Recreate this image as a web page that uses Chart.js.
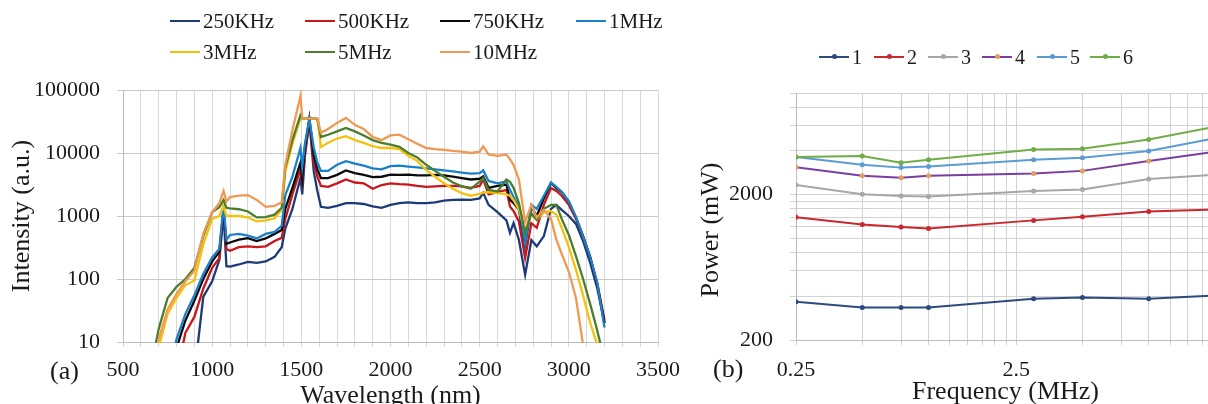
<!DOCTYPE html>
<html><head><meta charset="utf-8">
<script src="https://cdn.jsdelivr.net/npm/chart.js@4.4.1/dist/chart.umd.min.js"></script>
<style>
html,body{margin:0;padding:0;background:#fff;}
body{width:1208px;height:404px;overflow:hidden;position:relative;font-family:'Liberation Serif','Times New Roman',serif;color:#1a1a1a;}
#wa{position:absolute;left:0;top:0;width:690px;height:420px;}
#wb{position:absolute;left:690px;top:0;width:560px;height:420px;}
.lg{position:absolute;display:flex;align-items:center;white-space:nowrap;line-height:1;}
.sw{position:relative;display:inline-block;width:30px;height:0;border-top:2.5px solid;margin-right:3px;}
.dot{position:absolute;left:12.5px;top:-3.75px;width:5px;height:5px;border-radius:50%;}
.tag{position:absolute;font-size:26px;line-height:26px;}
</style></head>
<body>
<div id="wa"><canvas id="ca" width="690" height="420"></canvas></div>
<div id="wb"><canvas id="cb" width="560" height="420"></canvas></div>
<div class="tag" style="left:50px;top:358px;">(a)</div>
<div class="tag" style="left:713px;top:356px;">(b)</div>
<script>
// ---------- (a) spectra ----------
const wavelengths = [650,700,750,800,850,900,950,1000,1040,1064,1080,1100,1150,1200,1250,1300,1350,1390,1410,1450,1495,1505,1520,1545,1570,1590,1610,1650,1700,1750,1800,1850,1900,1950,2000,2050,2100,2150,2200,2250,2300,2350,2400,2450,2500,2520,2550,2600,2650,2670,2690,2720,2755,2790,2820,2860,2900,2930,2960,3000,3040,3080,3120,3160,3200];
const s250k = [3,3,3,3,3,3,52,92,200,1100,160,157,170,187,180,190,225,320,630,1300,4000,2200,9000,32000,5000,2500,1400,1350,1450,1600,1600,1550,1420,1350,1500,1600,1650,1600,1600,1650,1750,1800,1820,1800,1900,2330,1500,1150,850,540,770,420,117,415,330,480,1300,1500,1250,1000,750,400,180,70,20];
const s500k = [3,3,3,3,14,25,70,150,215,1200,300,280,320,330,320,330,400,450,900,2200,5500,3500,10000,33000,7000,4200,3000,2900,3300,3800,3400,3300,2700,3100,3300,3200,3150,3000,2900,2950,3000,3000,2950,2800,3000,3800,2200,2400,2600,1420,1200,820,215,770,650,1500,2780,2500,2100,1500,900,460,220,85,22];
const s750k = [3,3,3,8,22,45,100,190,270,1300,360,380,420,445,400,440,520,600,1300,2800,7000,4000,12000,35000,9000,5500,4000,4000,4500,5300,4800,4500,4150,4200,4550,4500,4550,4400,4400,4500,4400,4200,4000,3800,3900,4250,2800,3000,3150,1820,1600,1260,350,1420,1000,1900,3340,2780,2400,1700,950,480,220,80,20];
const s1m = [3,3,3,11,28,55,120,220,300,1500,420,500,520,490,440,520,560,700,2150,4200,12000,6000,14000,35000,12000,7000,5200,5200,6500,7400,6800,6300,5700,5500,6200,6300,6100,5900,5700,5500,5300,5100,4900,4700,4800,5300,3600,3300,3550,2600,2000,1420,370,1500,1300,2100,3400,2900,2400,1700,950,470,220,85,17];
const s3m = [3,8,28,50,80,95,350,900,1000,1450,1000,1000,1000,950,820,850,920,1250,5000,14000,35000,35500,35500,35500,35500,34000,12500,14500,17000,18400,16000,14500,12800,12000,12000,11500,9000,7500,5400,4200,3300,2700,2300,2100,2250,2350,2400,2300,2200,2100,1800,1260,600,1050,870,1150,1200,1050,650,320,140,55,20,9,4];
const s5m = [3,16,50,75,100,150,480,1150,1380,1800,1350,1320,1280,1180,950,960,1050,1350,6000,16000,40000,35500,35500,35500,35500,35000,18000,19500,22000,25000,22000,19000,16000,14500,13600,12500,10000,8500,6500,5200,4200,3400,2960,2700,3500,4000,2600,2450,3800,3500,2800,1600,540,1100,870,1300,1500,1500,900,500,230,100,40,15,5];
const s10m = [3,11,33,58,92,135,520,1150,1600,2500,1700,2000,2100,2150,1800,1400,1450,1650,6500,23000,80000,35500,35500,35500,35500,35000,21000,24000,30000,36000,28000,24000,18000,16000,19000,19500,16500,14000,12000,11500,11200,10800,10500,10000,10500,12800,9500,9000,9400,8000,6500,3800,800,1500,950,1250,900,420,250,130,50,9,3,2,2];
const specLabels = ['250KHz','500KHz','750KHz','1MHz','3MHz','5MHz','10MHz'];
const specColors = ['#1d3a78','#c8161d','#0a0a0a','#1a80c8','#f4c20d','#4b7d2c','#ee9a52'];
const specSeries = [s250k, s500k, s750k, s1m, s3m, s5m, s10m];
const wlTickLabels = [500,1000,1500,2000,2500,3000,3500];
const intTickLabels = [10,100,1000,10000,100000];

// ---------- (b) power ----------
const freqs = [0.25,0.5,0.75,1,3,5,10,20];
const p1 = [367,335,335,335,384,392,384,405];
const p2 = [1395,1244,1199,1168,1330,1410,1532,1578];
const p3 = [2328,2009,1960,1938,2120,2173,2558,2745];
const p4 = [3085,2694,2610,2694,2793,2913,3406,3941];
const p5 = [3627,3214,3067,3116,3476,3588,3985,4893];
const p6 = [3627,3684,3318,3476,4092,4130,4786,5864];
const powerLabels = ['1','2','3','4','5','6'];
const powerColors = ['#2b4a80','#c8282e','#a6a6a6','#7a3ea0','#5b9bd5','#70ad47'];
const powerMarkers = ['#2b4a80','#c8282e','#a6a6a6','#e0a060','#5b9bd5','#70ad47'];
const powerSeries = [p1,p2,p3,p4,p5,p6];
const freqTickLabels = [0.25,2.5];
const powerTickLabels = [200,2000];

const TXT = '#1a1a1a';
const FONT = "'Liberation Serif','Times New Roman',serif";
Chart.defaults.font.family = FONT;
Chart.defaults.color = TXT;

// grid positions (minor grid)
const wlGrid = []; for (let v = 500; v <= 3500; v += 100) wlGrid.push(v);
const fGrid = []; for (let k = 1; k <= 10; k++) fGrid.push(0.25*k); for (let k = 2; k <= 8; k++) fGrid.push(2.5*k);
const pGrid = []; for (let k = 1; k <= 10; k++) pGrid.push(200*k); for (let k = 2; k <= 5; k++) pGrid.push(2000*k);

new Chart(document.getElementById('ca'), {
  type: 'line',
  data: {
    datasets: specSeries.map((s, i) => ({
      label: specLabels[i],
      data: s.map((v, j) => ({x: wavelengths[j], y: v})),
      borderColor: specColors[i], backgroundColor: specColors[i],
      borderWidth: 2.3, pointRadius: 0, tension: 0, fill: false, clip: 1,
      order: specSeries.length - 1 - i
    }))
  },
  options: {
    responsive: false, animation: false, devicePixelRatio: 1,
    layout: {padding: {left: 0, top: 90, right: 27, bottom: 0}},
    plugins: {legend: {display: false}, tooltip: {enabled: false}},
    scales: {
      x: {
        type: 'linear', min: 500, max: 3500, bounds: 'data',
        afterFit(s) { s.height = 78; },
        afterBuildTicks(s) { s.ticks = wlGrid.map(v => ({value: v})); },
        ticks: {autoSkip: false, maxRotation: 0, padding: 10, font: {size: 22}, color: TXT,
          callback: (v) => wlTickLabels.includes(v) ? String(v) : ''},
        grid: {color: '#d9d9d9', tickLength: 5, lineWidth: 1},
        border: {color: '#bdbdbd'},
        title: {display: true, text: 'Wavelength (nm)', font: {size: 26}, color: TXT, padding: {top: 0, bottom: 8}}
      },
      y: {
        type: 'logarithmic', min: 10, max: 100000, bounds: 'data',
        afterFit(s) { s.width = 123; },
        afterBuildTicks(s) { s.ticks = intTickLabels.map(v => ({value: v})); },
        ticks: {padding: 17, font: {size: 22}, color: TXT, callback: (v) => String(v)},
        grid: {color: '#c9c9c9', tickLength: 6},
        border: {color: '#bdbdbd'},
        title: {display: true, text: 'Intensity (a.u.)', font: {size: 26}, color: TXT, padding: {top: 7, bottom: 0}}
      }
    }
  }
});

// y title of (b) sits a little below the axis centre in the reference
const powerTitle = {
  id: 'powerTitle',
  afterDraw(chart) {
    const ctx = chart.ctx;
    ctx.save();
    ctx.translate(21, 230);
    ctx.rotate(-Math.PI / 2);
    ctx.font = '26px ' + FONT;
    ctx.fillStyle = TXT;
    ctx.textAlign = 'center';
    ctx.textBaseline = 'middle';
    ctx.fillText('Power (mW)', 0, 0);
    ctx.restore();
  }
};

new Chart(document.getElementById('cb'), {
  type: 'line',
  data: {
    datasets: powerSeries.map((s, i) => ({
      label: powerLabels[i],
      data: s.map((v, j) => ({x: freqs[j], y: v})),
      borderColor: powerColors[i], backgroundColor: powerMarkers[i],
      pointBackgroundColor: powerMarkers[i], pointBorderColor: powerMarkers[i],
      pointRadius: 2.5, pointBorderWidth: 0, borderWidth: 2, tension: 0, fill: false,
      order: powerSeries.length - 1 - i
    }))
  },
  plugins: [powerTitle],
  options: {
    responsive: false, animation: false, devicePixelRatio: 1,
    layout: {padding: {left: 0, top: 93, right: 35, bottom: 0}},
    plugins: {legend: {display: false}, tooltip: {enabled: false}},
    scales: {
      x: {
        type: 'logarithmic', min: 0.25, max: 20, bounds: 'data',
        afterFit(s) { s.height = 80; },
        afterBuildTicks(s) { s.ticks = fGrid.map(v => ({value: v})); },
        ticks: {autoSkip: false, maxRotation: 0, padding: 12, font: {size: 22}, color: TXT,
          callback: (v) => freqTickLabels.includes(v) ? String(v) : ''},
        grid: {color: '#d3d3d3', tickLength: 5},
        border: {color: '#bdbdbd'},
        title: {display: true, text: 'Frequency (MHz)', font: {size: 26}, color: TXT, padding: {top: 0, bottom: 12}}
      },
      y: {
        type: 'logarithmic', min: 200, max: 10000, bounds: 'data',
        afterFit(s) { s.width = 106; },
        afterBuildTicks(s) { s.ticks = pGrid.map(v => ({value: v})); },
        ticks: {autoSkip: false, padding: 17, font: {size: 22}, color: TXT,
          callback: (v) => powerTickLabels.includes(v) ? String(v) : ''},
        grid: {color: '#d3d3d3', tickLength: 6},
        border: {color: '#bdbdbd'},
        title: {display: false}
      }
    }
  }
});

// ---------- HTML legends ----------
function addItem(x, cy, fs, color, marker, text) {
  const d = document.createElement('div');
  d.className = 'lg';
  d.style.left = x + 'px';
  d.style.top = (cy - fs / 2) + 'px';
  d.style.height = fs + 'px';
  d.style.fontSize = fs + 'px';
  const sw = document.createElement('span');
  sw.className = 'sw';
  sw.style.borderTopColor = color;
  if (marker) {
    const dot = document.createElement('i');
    dot.className = 'dot';
    dot.style.background = marker;
    sw.appendChild(dot);
  }
  d.appendChild(sw);
  const t = document.createElement('span');
  t.textContent = text;
  d.appendChild(t);
  document.body.appendChild(d);
}
const aCols = [170, 305, 440, 576], aRows = [21, 52];
specLabels.forEach((lab, i) => {
  const r = i < 4 ? 0 : 1, c = i < 4 ? i : i - 4;
  addItem(aCols[c], aRows[r], 21, specColors[i], null, lab);
});
const bCols = [819, 874, 928, 982, 1037, 1090];
powerLabels.forEach((lab, i) => addItem(bCols[i], 57, 20, powerColors[i], powerMarkers[i], lab));
</script>
</body></html>
